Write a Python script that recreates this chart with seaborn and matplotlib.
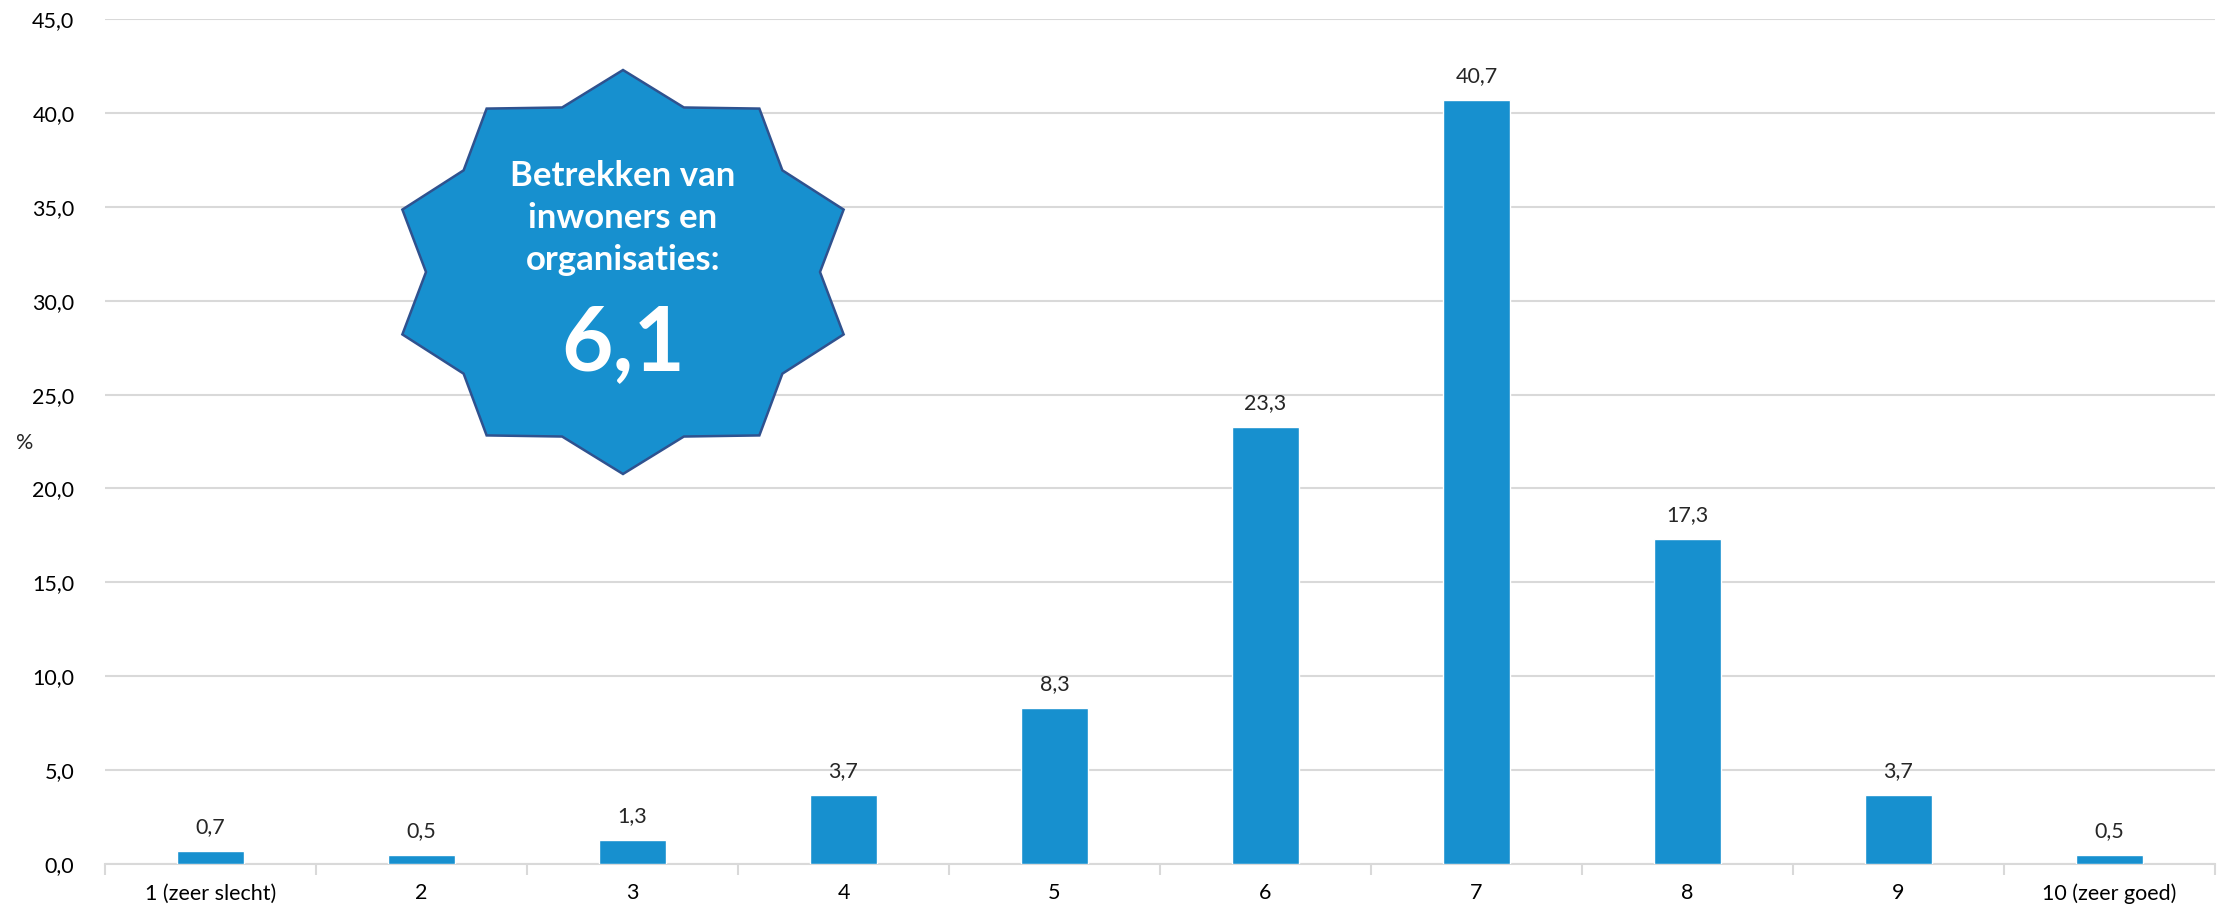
import numpy as np
import pandas as pd
import matplotlib
matplotlib.use('Agg')
import matplotlib.pyplot as plt
import seaborn as sns
from matplotlib.patches import Polygon
import matplotlib.ticker as ticker

# data
categories = ['1 (zeer slecht)', '2', '3', '4', '5', '6', '7', '8', '9', '10 (zeer goed)']
percentages = [0.7, 0.5, 1.3, 3.7, 8.3, 23.3, 40.7, 17.3, 3.7, 0.5]
y_ticks = [0, 5, 10, 15, 20, 25, 30, 35, 40, 45]
star_title = 'Betrekken van\ninwoners en\norganisaties:'
star_score = '6,1'

BAR_COLOR = '#1790CF'
GRID_COLOR = '#D9D9D9'


def comma(v, pos=None):
    return ('%.1f' % v).replace('.', ',')


def main():
    sns.set_style('white')
    plt.rcParams['font.family'] = ['Lato', 'DejaVu Sans']

    df = pd.DataFrame({'score': categories, 'pct': percentages})

    fig = plt.figure(figsize=(22.21, 9.09), dpi=100)
    ax = fig.add_axes([0.0473, 0.0495, 0.95, 0.9295])

    sns.barplot(data=df, x='score', y='pct', color=BAR_COLOR, width=0.32,
                saturation=1, ax=ax, zorder=3)

    ax.set_ylim(0, 45)
    ax.set_yticks(y_ticks)
    ax.yaxis.set_major_formatter(ticker.FuncFormatter(comma))
    ax.set_xlim(-0.5, len(categories) - 0.5)
    ax.grid(axis='y', color=GRID_COLOR, linewidth=1.5, zorder=0)
    ax.set_axisbelow(True)

    for side in ['top', 'right', 'left']:
        ax.spines[side].set_visible(False)
    ax.spines['bottom'].set_color(GRID_COLOR)
    ax.spines['bottom'].set_linewidth(1.5)

    # tick marks between categories on the x axis
    ax.set_xticks(np.arange(len(categories) + 1) - 0.5, minor=True)
    ax.tick_params(axis='x', which='minor', length=8, width=1.5, color=GRID_COLOR, bottom=True)
    ax.tick_params(axis='x', which='major', length=0, labelsize=15.5, pad=14, colors='#000000')
    ax.tick_params(axis='y', length=0, labelsize=15.5, pad=22, colors='#000000')

    ax.set_xlabel('')
    ax.set_ylabel('%', rotation=0, fontsize=15.5, va='center', ha='center')
    ax.yaxis.set_label_coords(-0.038, 0.498)

    for c in ax.containers:
        ax.bar_label(c, labels=[comma(v) for v in percentages], padding=10, fontsize=15.5)

    # ten-pointed star badge
    cx, cy = 623 / 2221, 1 - 272 / 909
    rx_out, ry_out = 232 / 2221, 202 / 909
    rx_in, ry_in = 197 / 2221, 173 / 909
    verts = []
    for k in range(20):
        ang = np.pi / 2 + k * np.pi / 10
        if k % 2 == 0:
            verts.append((cx + rx_out * np.cos(ang), cy + ry_out * np.sin(ang)))
        else:
            verts.append((cx + rx_in * np.cos(ang), cy + ry_in * np.sin(ang)))
    star = Polygon(verts, closed=True, transform=fig.transFigure, facecolor=BAR_COLOR,
                   edgecolor='#2F528F', linewidth=1.8, zorder=10)
    fig.patches.append(star)

    fig.text(cx, 1 - 218 / 909, star_title, ha='center', va='center', color='white',
             fontsize=25, fontweight='bold', linespacing=1.4, zorder=11)
    fig.text(cx, 1 - 344 / 909, star_score, ha='center', va='center', color='white',
             fontsize=64, fontweight='bold', zorder=11)

    fig.savefig('out.png', dpi=100)


if __name__ == '__main__':
    main()
